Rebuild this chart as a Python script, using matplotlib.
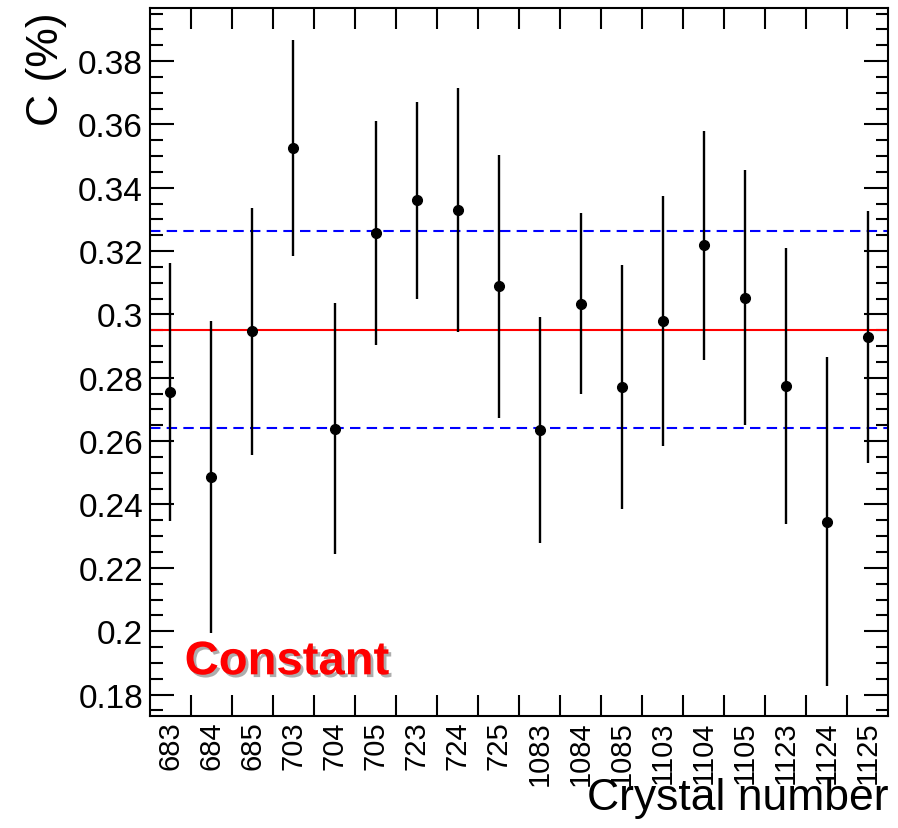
import matplotlib
matplotlib.use('Agg')
import matplotlib.pyplot as plt
import matplotlib.patheffects as pe
import numpy as np
from matplotlib.ticker import MultipleLocator, FuncFormatter

crystals = ['683', '684', '685', '703', '704', '705', '723', '724', '725',
            '1083', '1084', '1085', '1103', '1104', '1105', '1123', '1124', '1125']
const = [0.2754, 0.2486, 0.2947, 0.3524, 0.2639, 0.3256, 0.3360, 0.3331, 0.3089,
         0.2636, 0.3034, 0.2771, 0.2979, 0.3218, 0.3053, 0.2774, 0.2346, 0.2929]
const_err = [0.0407, 0.0492, 0.0390, 0.0341, 0.0396, 0.0354, 0.0310, 0.0385, 0.0415,
             0.0357, 0.0286, 0.0384, 0.0394, 0.0362, 0.0403, 0.0436, 0.0520, 0.0399]
mean_val = 0.2952
spread = 0.0311

plt.rcParams['font.family'] = ['Liberation Sans', 'DejaVu Sans']

fig = plt.figure(figsize=(8.98, 8.29), dpi=100)
ax = fig.add_axes([0.167, 0.135, 0.822, 0.854])

n = len(crystals)
xc = np.arange(n) + 0.5

ax.axhline(mean_val, color='#ff0000', lw=1.5, zorder=2)
ax.axhline(mean_val + spread, color='#0000ff', lw=1.5, ls=(0, (5, 3)), zorder=2)
ax.axhline(mean_val - spread, color='#0000ff', lw=1.5, ls=(0, (5, 3)), zorder=2)

ax.errorbar(xc, const, yerr=const_err, fmt='o', color='black', ms=7,
            elinewidth=1.7, capsize=0, zorder=3)

ax.set_xlim(0, n)
ax.set_ylim(0.1732, 0.3967)

# bin edges get the ticks, bin centres get the labels
ax.set_xticks(np.arange(1, n))
ax.set_xticklabels([])
ax.set_xticks(xc, minor=True)
ax.set_xticklabels(crystals, minor=True, rotation=90, fontsize=21, va='top', ha='center')
ax.tick_params(axis='x', which='major', direction='in', length=15, width=1.5,
               top=True, bottom=True)
ax.tick_params(axis='x', which='minor', length=0, pad=3)

ax.yaxis.set_major_locator(MultipleLocator(0.02))
ax.yaxis.set_minor_locator(MultipleLocator(0.005))
ax.yaxis.set_major_formatter(FuncFormatter(lambda v, p: '%g' % round(v, 3)))
ax.tick_params(axis='y', which='major', direction='in', length=17, width=1.5,
               left=True, right=True, labelsize=24, pad=5)
ax.tick_params(axis='y', which='minor', direction='in', length=9, width=1.5,
               left=True, right=True)

for s in ax.spines.values():
    s.set_linewidth(1.5)

ax.set_xlabel('Crystal number', fontsize=32, loc='right')
ax.xaxis.set_label_coords(1.0, -0.086)
ax.set_ylabel('C (%)', fontsize=32, loc='top')
ax.yaxis.set_label_coords(-0.1125, 0.996)

ax.text(0.047, 0.059, 'Constant', transform=ax.transAxes, fontsize=34,
        fontweight='bold', color='#ff0000', ha='left', va='baseline',
        path_effects=[pe.withSimplePatchShadow(offset=(2, -2), shadow_rgbFace='#999999', alpha=0.8)])

fig.savefig('out.png', dpi=100)
